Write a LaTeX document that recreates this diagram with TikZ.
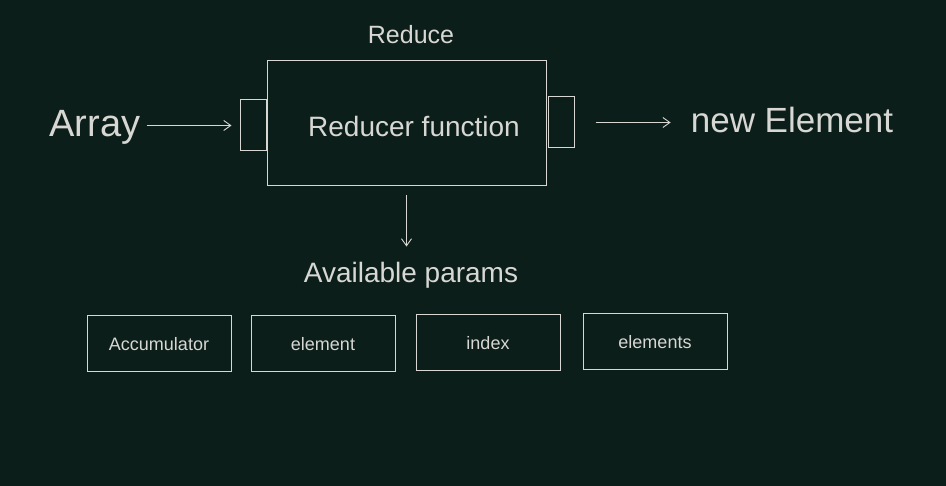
\documentclass[tikz,border=0pt]{standalone}
\usepackage{fontspec}
\setmainfont{Liberation Sans}
\usetikzlibrary{arrows.meta}
\definecolor{boardbg}{RGB}{12,30,25}
\definecolor{chalk}{RGB}{215,215,212}
\begin{document}
\begin{tikzpicture}[x=1pt,y=-1pt]
	\tikzset{chalk box/.style={draw=chalk,line width=1pt,rectangle,inner sep=0pt},
		chalk text/.style={text=chalk,inner sep=0pt,anchor=base},
		flow/.style={draw=chalk,line width=0.9pt,-{Straight Barb[length=7pt,width=10pt]}}}
	\fill[boardbg] (0,0) rectangle (946,486);
	\useasboundingbox (0,0) rectangle (946,486);
	\node [chalk box,minimum width=279pt,minimum height=125pt] (reducer)	at (406.5,123.5)	{};
		\node [chalk text,font=\fontsize{28}{30}\selectfont]				at (414,137)		{Reducer function};
		\node [chalk text,font=\fontsize{25}{28}\selectfont] (title)		at (411,44)		{Reduce};
	\node [chalk box,minimum width=26pt,minimum height=51pt] (inbox)		at (253,125.5)		{};
	\node [chalk box,minimum width=26pt,minimum height=51pt] (outbox)		at (561,122.5)		{};
	\node [chalk text,font=\fontsize{38}{40}\selectfont] (array)			at (95,137)		{Array};
	\node [chalk text,font=\fontsize{35}{40}\selectfont] (newel)			at (792,133)		{new Element};
	\node [chalk text,font=\fontsize{28}{30}\selectfont] (params)			at (411,283)		{Available params};
	\node [chalk box,minimum width=144pt,minimum height=56pt,font=\fontsize{18}{20}\selectfont,text=chalk] (acc)	at (159,344)	{Accumulator};
	\node [chalk box,minimum width=144pt,minimum height=56pt,font=\fontsize{18}{20}\selectfont,text=chalk] (elem)	at (323,344)	{element};
	\node [chalk box,minimum width=144pt,minimum height=56pt,font=\fontsize{18}{20}\selectfont,text=chalk] (idx)	at (488,343)	{index};
	\node [chalk box,minimum width=144pt,minimum height=56pt,font=\fontsize{18}{20}\selectfont,text=chalk] (elems)	at (655,342)	{elements};
	\draw [flow,shorten >=8pt,shorten <=6pt]	(inbox.west -| array.east) -- (inbox.west);
	\draw [flow,shorten >=20pt,shorten <=21pt]	(outbox.east) -- (outbox.east -| newel.west);
	\draw [flow,shorten >=16pt,shorten <=9pt]	(reducer.south) -- (reducer.south |- params.north);
\end{tikzpicture}
\end{document}
